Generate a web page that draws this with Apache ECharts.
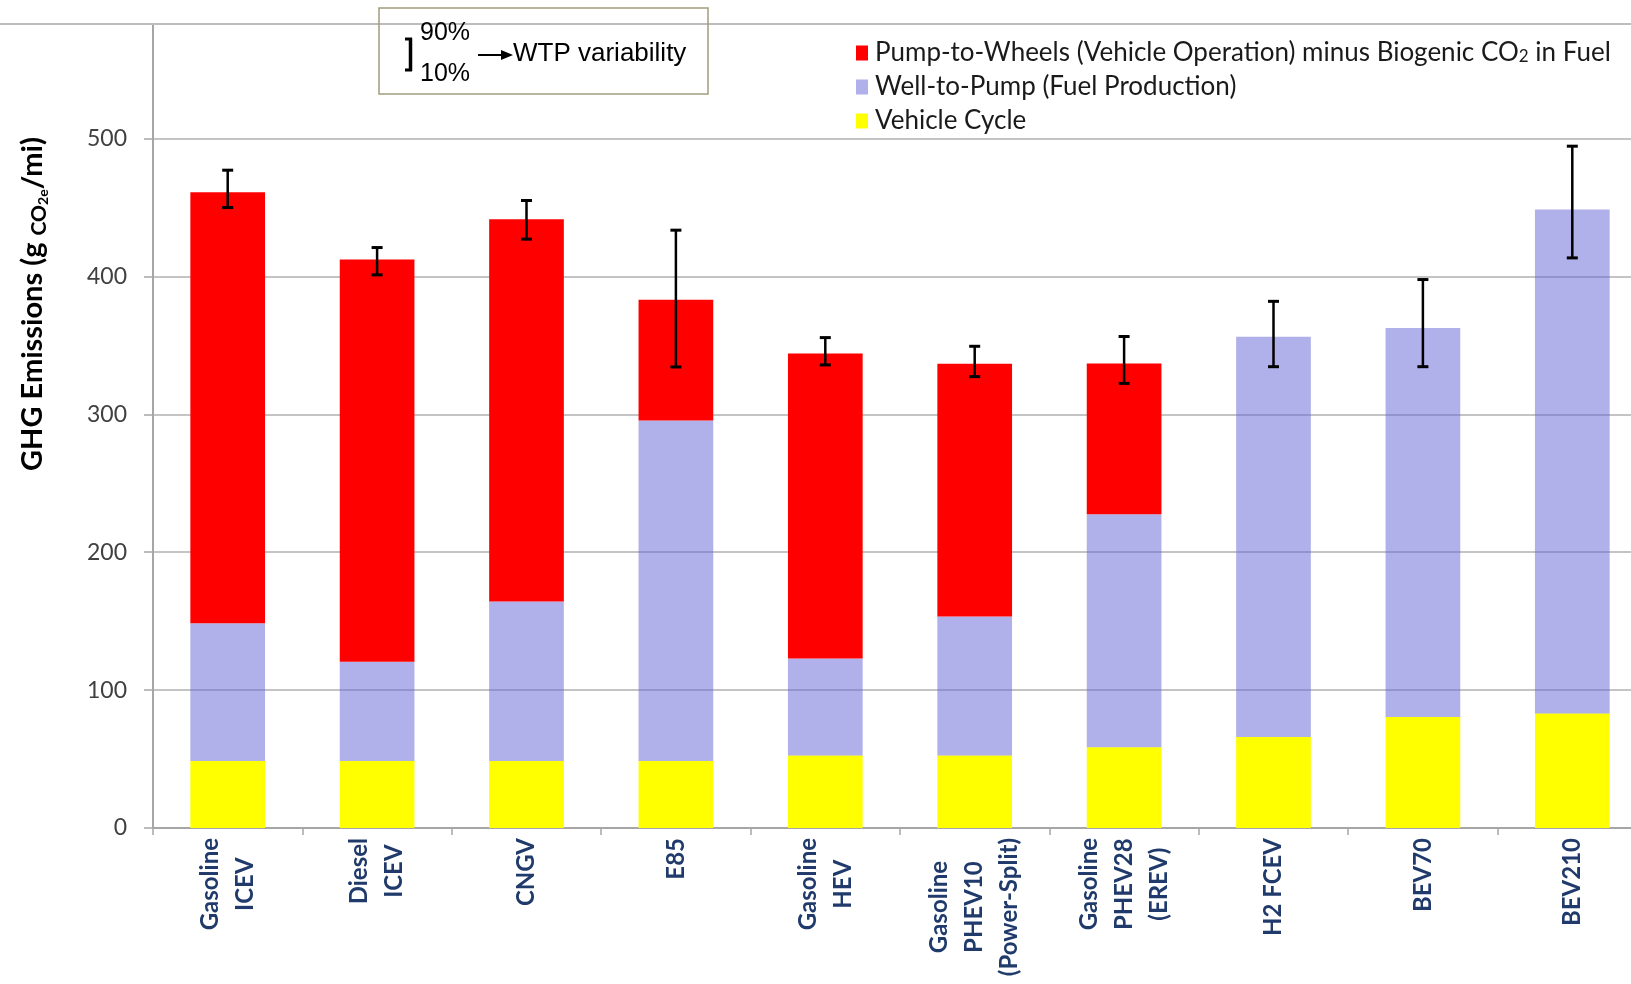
<!DOCTYPE html>
<html>
<head>
<meta charset="utf-8">
<script src="https://cdn.jsdelivr.net/npm/echarts@6/dist/echarts.min.js"></script>
<style>
html,body{margin:0;padding:0;background:#fff;}
#c{width:1631px;height:984px;}
</style>
</head>
<body>
<div id="c"></div>
<script>
var categories = ['Gasoline\nICEV', 'Diesel\nICEV', 'CNGV', 'E85', 'Gasoline\nHEV',
  'Gasoline\nPHEV10\n(Power-Split)', 'Gasoline\nPHEV28\n(EREV)', 'H2 FCEV', 'BEV70', 'BEV210'];
var vehicleCycle = [48.5, 48.5, 48.5, 48.5, 52.5, 52.5, 58.5, 66, 80.5, 83];
var wellToPump = [100, 72, 115.7, 247, 70.4, 100.8, 169, 290.3, 282, 365.5];
var pumpToWheels = [312.5, 291.7, 277.2, 87.5, 221.1, 183.4, 109.3, 0, 0, 0];
var wtpLow = [449.9, 401.1, 427, 334.3, 335.8, 327.3, 322.4, 334.5, 334.5, 413.4];
var wtpHigh = [477, 420.9, 455, 433.5, 355.6, 349.3, 356.4, 381.9, 397.7, 494.4];
var yTicks = [0, 100, 200, 300, 400, 500];

var names = {
  ptw: 'Pump-to-Wheels (Vehicle Operation) minus Biogenic CO2 in Fuel',
  wtp: 'Well-to-Pump (Fuel Production)',
  vc: 'Vehicle Cycle'
};

var errData = categories.map(function (c, i) { return [i, wtpLow[i], wtpHigh[i]]; });

var chart = echarts.init(document.getElementById('c'), null, {renderer: 'canvas'});
var FONT = 'Lato, "Open Sans", sans-serif';
var ARIAL = '"Liberation Sans", Arial, sans-serif';

var option = {
  backgroundColor: '#ffffff',
  animation: false,
  grid: {left: 153, top: 24, right: -16, bottom: 156, containLabel: false, outerBoundsMode: 'none'},
  legend: {
    orient: 'vertical', left: 851, top: 35,
    itemWidth: 12, itemHeight: 15, itemGap: 8,
    icon: 'rect',
    data: [names.ptw, names.wtp, names.vc],
    formatter: function (n) {
      if (n === names.ptw) return 'Pump-to-Wheels (Vehicle Operation) minus Biogenic CO{sub|2} in Fuel';
      return n;
    },
    textStyle: {
      fontFamily: FONT, fontSize: 26, color: '#1a1a1a', lineHeight: 25, padding: [0, 0, 0, 2],
      rich: {sub: {fontFamily: FONT, fontSize: 17, color: '#1a1a1a', verticalAlign: 'bottom', lineHeight: 18}}
    }
  },
  xAxis: {
    type: 'category',
    data: categories,
    axisLine: {lineStyle: {color: '#a6a6a6', width: 2}},
    axisTick: {show: true, length: 7, lineStyle: {color: '#a6a6a6', width: 1.5}},
    axisLabel: {
      interval: 0, rotate: 90, margin: 10,
      formatter: function (v) {
        return v.split('\n').map(function (l) { return '{a|' + l + '}'; }).join('\n');
      },
      rich: {a: {align: 'center', fontFamily: FONT, fontSize: 24, fontWeight: 'bold', color: '#1F3A6B', lineHeight: 35}}
    }
  },
  yAxis: {
    type: 'value', min: 0, max: 583, interval: 100,
    axisLine: {show: true, lineStyle: {color: '#a6a6a6', width: 2}},
    axisTick: {show: true, length: 9, lineStyle: {color: '#a6a6a6', width: 1.5}},
    axisLabel: {
      showMaxLabel: false, margin: 26, fontFamily: FONT, fontSize: 23, color: '#404040',
      formatter: function (v) { return yTicks.indexOf(v) >= 0 ? String(v) : ''; }
    },
    splitLine: {show: true, lineStyle: {color: '#c4c4c4', width: 2}}
  },
  series: [
    {name: names.vc, type: 'bar', stack: 'total', barWidth: '50%', data: vehicleCycle,
      itemStyle: {color: '#FFFF00'}},
    {name: names.wtp, type: 'bar', stack: 'total', barWidth: '50%', data: wellToPump,
      itemStyle: {color: 'rgba(98,98,214,0.5)'}},
    {name: names.ptw, type: 'bar', stack: 'total', barWidth: '50%', data: pumpToWheels,
      itemStyle: {color: '#FF0000'}},
    {name: 'err', type: 'custom', z: 10, data: errData,
      renderItem: function (params, api) {
        var x = api.value(0);
        var lo = api.coord([x, api.value(1)]);
        var hi = api.coord([x, api.value(2)]);
        var hw = 5.5;
        var st = {stroke: '#000', lineWidth: 2.5};
        var cs = {stroke: '#000', lineWidth: 3};
        return {type: 'group', children: [
          {type: 'line', shape: {x1: lo[0], y1: lo[1], x2: hi[0], y2: hi[1]}, style: st},
          {type: 'line', shape: {x1: lo[0] - hw, y1: lo[1], x2: lo[0] + hw, y2: lo[1]}, style: cs},
          {type: 'line', shape: {x1: hi[0] - hw, y1: hi[1], x2: hi[0] + hw, y2: hi[1]}, style: cs}
        ]};
      }
    }
  ],
  graphic: [
    {type: 'line', shape: {x1: 0, y1: 24, x2: 1631, y2: 24}, style: {stroke: '#bdbdbd', lineWidth: 2}, z: 1},
    {type: 'rect', shape: {x: 379, y: 8, width: 329, height: 86}, style: {fill: 'none', stroke: '#a39d7c', lineWidth: 1.5}, z: 5},
    {type: 'line', shape: {x1: 410.5, y1: 38, x2: 410.5, y2: 71}, style: {stroke: '#000', lineWidth: 3.5}, z: 6},
    {type: 'line', shape: {x1: 405, y1: 39, x2: 412, y2: 39}, style: {stroke: '#000', lineWidth: 3}, z: 6},
    {type: 'line', shape: {x1: 405, y1: 70, x2: 412, y2: 70}, style: {stroke: '#000', lineWidth: 3}, z: 6},
    {type: 'text', x: 420, y: 33, style: {text: '90%', fontFamily: ARIAL, fontSize: 25, fill: '#000', verticalAlign: 'middle'}, z: 6},
    {type: 'text', x: 420, y: 74, style: {text: '10%', fontFamily: ARIAL, fontSize: 25, fill: '#000', verticalAlign: 'middle'}, z: 6},
    {type: 'line', shape: {x1: 478, y1: 55, x2: 503, y2: 55}, style: {stroke: '#000', lineWidth: 2}, z: 6},
    {type: 'polygon', shape: {points: [[501, 50], [513, 55], [501, 60]]}, style: {fill: '#000'}, z: 6},
    {type: 'text', x: 513, y: 54, style: {text: 'WTP variability', fontFamily: ARIAL, fontSize: 26, fill: '#000', verticalAlign: 'middle'}, z: 6},
    {type: 'text', x: 33, y: 304, rotation: Math.PI / 2,
      style: {
        text: '{n|GHG Emissions (g }{s|CO}{ss|2e}{n|/mi)}',
        align: 'center', verticalAlign: 'middle',
        rich: {
          n: {fontFamily: FONT, fontSize: 29, fontWeight: 'bold', fill: '#000', lineHeight: 34},
          s: {fontFamily: FONT, fontSize: 21, fontWeight: 'bold', fill: '#000', lineHeight: 34, verticalAlign: 'bottom'},
          ss: {fontFamily: FONT, fontSize: 14, fontWeight: 'bold', fill: '#000', lineHeight: 30, verticalAlign: 'bottom'}
        }
      }, z: 6}
  ]
};
chart.setOption(option);
</script>
</body>
</html>
